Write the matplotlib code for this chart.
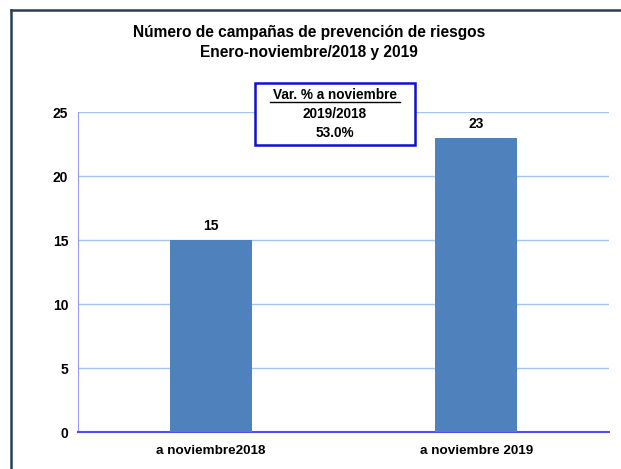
import matplotlib
matplotlib.use("Agg")
import matplotlib.pyplot as plt
from matplotlib.lines import Line2D

plt.rcParams['font.family'] = ['Liberation Sans', 'DejaVu Sans']

categories = ["a noviembre2018", "a noviembre 2019"]
values = [15, 23]
yticks = [0, 5, 10, 15, 20, 25]
title_lines = ["Número de campañas de prevención de riesgos", "Enero-noviembre/2018 y 2019"]
box_lines = ["Var. % a noviembre", "2019/2018", "53.0%"]

W, H = 621, 469
fig = plt.figure(figsize=(W / 100, H / 100), dpi=100)
fig.patch.set_facecolor("white")

# axes box in pixels: x 78..609, y 112..432
ax = fig.add_axes([78 / W, 1 - 432 / H, (609 - 78) / W, (432 - 112) / H])

x = list(range(len(categories)))
ax.bar(x, values, width=0.31, color="#4F81BD", zorder=3)
ax.set_xlim(-0.5, 1.5)
ax.set_ylim(0, 25)
ax.set_yticks(yticks)
ax.set_xticks(x)
ax.set_xticklabels(categories, fontsize=9.7, fontweight="bold")
ax.set_yticklabels([str(t) for t in yticks], fontsize=10, fontweight="bold")
ax.tick_params(axis="y", length=0, pad=7)
ax.tick_params(axis="x", length=0, pad=9)
ax.grid(axis="y", color="#A9C4EC", linewidth=1, zorder=0)

for s in ["top", "right"]:
    ax.spines[s].set_visible(False)
ax.spines["left"].set_color("#9A9AF5")
ax.spines["bottom"].set_color("#5050F0")
ax.spines["bottom"].set_linewidth(1.5)

for xi, v in zip(x, values):
    ax.annotate(str(v), (xi, v), xytext=(0, 5), textcoords="offset points",
                ha="center", va="bottom", fontsize=10, fontweight="bold")

# title
fig.text(309 / W, 1 - 33 / H, title_lines[0], ha="center", va="center",
         fontsize=11.2, fontweight="bold")
fig.text(309 / W, 1 - 52 / H, title_lines[1], ha="center", va="center",
         fontsize=11.2, fontweight="bold")

# variation box
bx0, bx1, by0, by1 = 255, 415, 83, 145
fig.patches.append(plt.Rectangle((bx0 / W, 1 - by1 / H), (bx1 - bx0) / W, (by1 - by0) / H,
                                 transform=fig.transFigure, facecolor="white",
                                 edgecolor="#1010D0", linewidth=1.8, zorder=5))
for i, (t, yy) in enumerate(zip(box_lines, [95, 114, 133])):
    fig.text(335 / W, 1 - yy / H, t, ha="center", va="center",
             fontsize=9.8, fontweight="bold", zorder=6)
    if i == 0:
        fig.add_artist(Line2D([270 / W, 400 / W], [1 - 102 / H, 1 - 102 / H],
                              color="black", linewidth=1, zorder=6))

# outer border (left and top)
fig.add_artist(Line2D([11 / W, 11 / W], [0, 1 - 10 / H], color="#2B3D57", linewidth=1.8))
fig.add_artist(Line2D([11 / W, 1], [1 - 10 / H, 1 - 10 / H], color="#2B3D57", linewidth=1.8))

fig.savefig("out.png", dpi=100)
